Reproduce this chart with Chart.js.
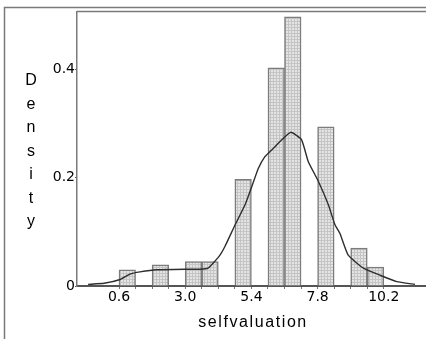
<!DOCTYPE html>
<html>
<head>
<meta charset="utf-8">
<script src="https://cdn.jsdelivr.net/npm/chart.js@4.4.7/dist/chart.umd.min.js"></script>
<style>
  html, body { margin: 0; padding: 0; background: #fff; }
  #wrap { position: relative; width: 426px; height: 339px; }
</style>
</head>
<body>
<div id="wrap"><canvas id="chart"></canvas></div>
<script>
// histogram: centre of each 0.6-wide bin and its density
const binCenters = [0.9, 2.1, 3.3, 3.9, 5.1, 6.3, 6.9, 8.1, 9.3, 9.9];
const binDensity = [0.030, 0.039, 0.045, 0.045, 0.197, 0.403, 0.497, 0.294, 0.070, 0.035];

// kernel density curve
const kdeX = [-0.52, 0.06, 0.64, 1.0, 1.36, 1.97, 3.05, 3.54, 3.83, 4.01, 4.26, 4.44, 4.81, 5.17, 5.41, 5.65,
  5.89, 6.19, 6.50, 6.83, 7.22, 7.46, 7.83, 8.19, 8.43, 8.61, 8.91, 9.46, 10.06, 10.67, 11.33];
const kdeY = [0.003, 0.005, 0.012, 0.022, 0.026, 0.030, 0.031, 0.031, 0.033, 0.042, 0.057, 0.073, 0.113, 0.150, 0.183, 0.217,
  0.239, 0.254, 0.270, 0.284, 0.270, 0.230, 0.193, 0.150, 0.113, 0.097, 0.057, 0.033, 0.020, 0.008, 0.003];

const xTickValues = [0.6, 1.2, 1.8, 2.4, 3.0, 3.6, 4.2, 4.8, 5.4, 6.0, 6.6, 7.2, 7.8, 8.4, 9.0, 9.6, 10.2];
const xTickLabels = ['0.6', '', '', '', '3.0', '', '', '', '5.4', '', '', '', '7.8', '', '', '', '10.2'];
const yTickValues = [0, 0.2, 0.4];
const yTickLabels = ['0', '0.2', '0.4'];

const xTitle = 'selfvaluation';
const yTitle = 'Density';

const canvas = document.getElementById('chart');
const ctx = canvas.getContext('2d');

// light grey dotted fill for the bars
function makePattern() {
  const c = document.createElement('canvas');
  c.width = 3; c.height = 3;
  const g = c.getContext('2d');
  g.fillStyle = '#e4e4e4';
  g.fillRect(0, 0, 3, 3);
  g.fillStyle = '#c4c4c4';
  g.fillRect(0, 0, 3, 1);
  g.fillRect(0, 0, 1, 3);
  return ctx.createPattern(c, 'repeat');
}

const framePlugin = {
  id: 'frame',
  afterDraw(chart) {
    const c = chart.ctx;
    const area = chart.chartArea;
    c.save();
    c.strokeStyle = '#7a7a7a';
    c.lineWidth = 1.5;
    c.beginPath();
    c.moveTo(4.5, chart.height);
    c.lineTo(4.5, 7.5);
    c.lineTo(chart.width, 7.5);
    c.moveTo(area.left, area.top);
    c.lineTo(chart.width, area.top);
    c.stroke();

    c.fillStyle = '#000';
    c.font = '16px "Liberation Sans", Arial, sans-serif';
    c.textAlign = 'center';
    c.textBaseline = 'middle';
    yTitle.split('').forEach((ch, i) => c.fillText(ch, 31, 81 + i * 23.5));
    c.letterSpacing = '1.6px';
    c.fillText(xTitle, 253, 323);
    c.restore();
  }
};

const pxMinX = -0.923, pxMaxX = 11.73;

new Chart(canvas, {
  type: 'bar',
  data: {
    datasets: [
      {
        type: 'line',
        data: kdeX.map((x, i) => ({ x, y: kdeY[i] })),
        borderColor: '#2e2e2e',
        borderWidth: 1.4,
        pointRadius: 0,
        tension: 0.15,
        fill: false,
        order: 0,
      },
      {
        type: 'bar',
        data: binCenters.map((x, i) => ({ x, y: binDensity[i] })),
        backgroundColor: makePattern(),
        borderColor: '#7c7c7c',
        borderWidth: 1.5,
        barPercentage: 1,
        categoryPercentage: 1,
        order: 1,
      },
    ],
  },
  options: {
    responsive: true,
    maintainAspectRatio: false,
    animation: false,
    layout: { padding: { top: 11.5, left: 0, right: 0, bottom: 0 } },
    plugins: {
      legend: { display: false },
      tooltip: { enabled: false },
    },
    scales: {
      x: {
        type: 'linear',
        min: pxMinX,
        max: pxMaxX,
        offset: false,
        z: 1,
        afterBuildTicks: (s) => { s.ticks = xTickValues.map(v => ({ value: v })); },
        afterFit: (s) => { s.height = 53; },
        grid: { drawOnChartArea: false, drawTicks: true, tickLength: 3, color: '#777', offset: false },
        border: { display: true, color: '#555', width: 2 },
        ticks: {
          autoSkip: false,
          maxRotation: 0,
          padding: 0,
          color: '#000',
          font: { family: '"DejaVu Sans", Verdana, sans-serif', size: 14 },
          callback: (v, i) => xTickLabels[i],
        },
      },
      y: {
        type: 'linear',
        min: 0,
        max: 0.507,
        afterBuildTicks: (s) => { s.ticks = yTickValues.map(v => ({ value: v })); },
        afterFit: (s) => { s.width = 77; },
        grid: { drawOnChartArea: false, drawTicks: true, tickLength: 2, color: '#555' },
        border: { display: true, color: '#7a7a7a', width: 1.5 },
        ticks: {
          padding: 0,
          color: '#000',
          font: { family: '"DejaVu Sans", Verdana, sans-serif', size: 14 },
          callback: (v, i) => yTickLabels[i],
        },
      },
    },
  },
  plugins: [framePlugin],
});
</script>
</body>
</html>
